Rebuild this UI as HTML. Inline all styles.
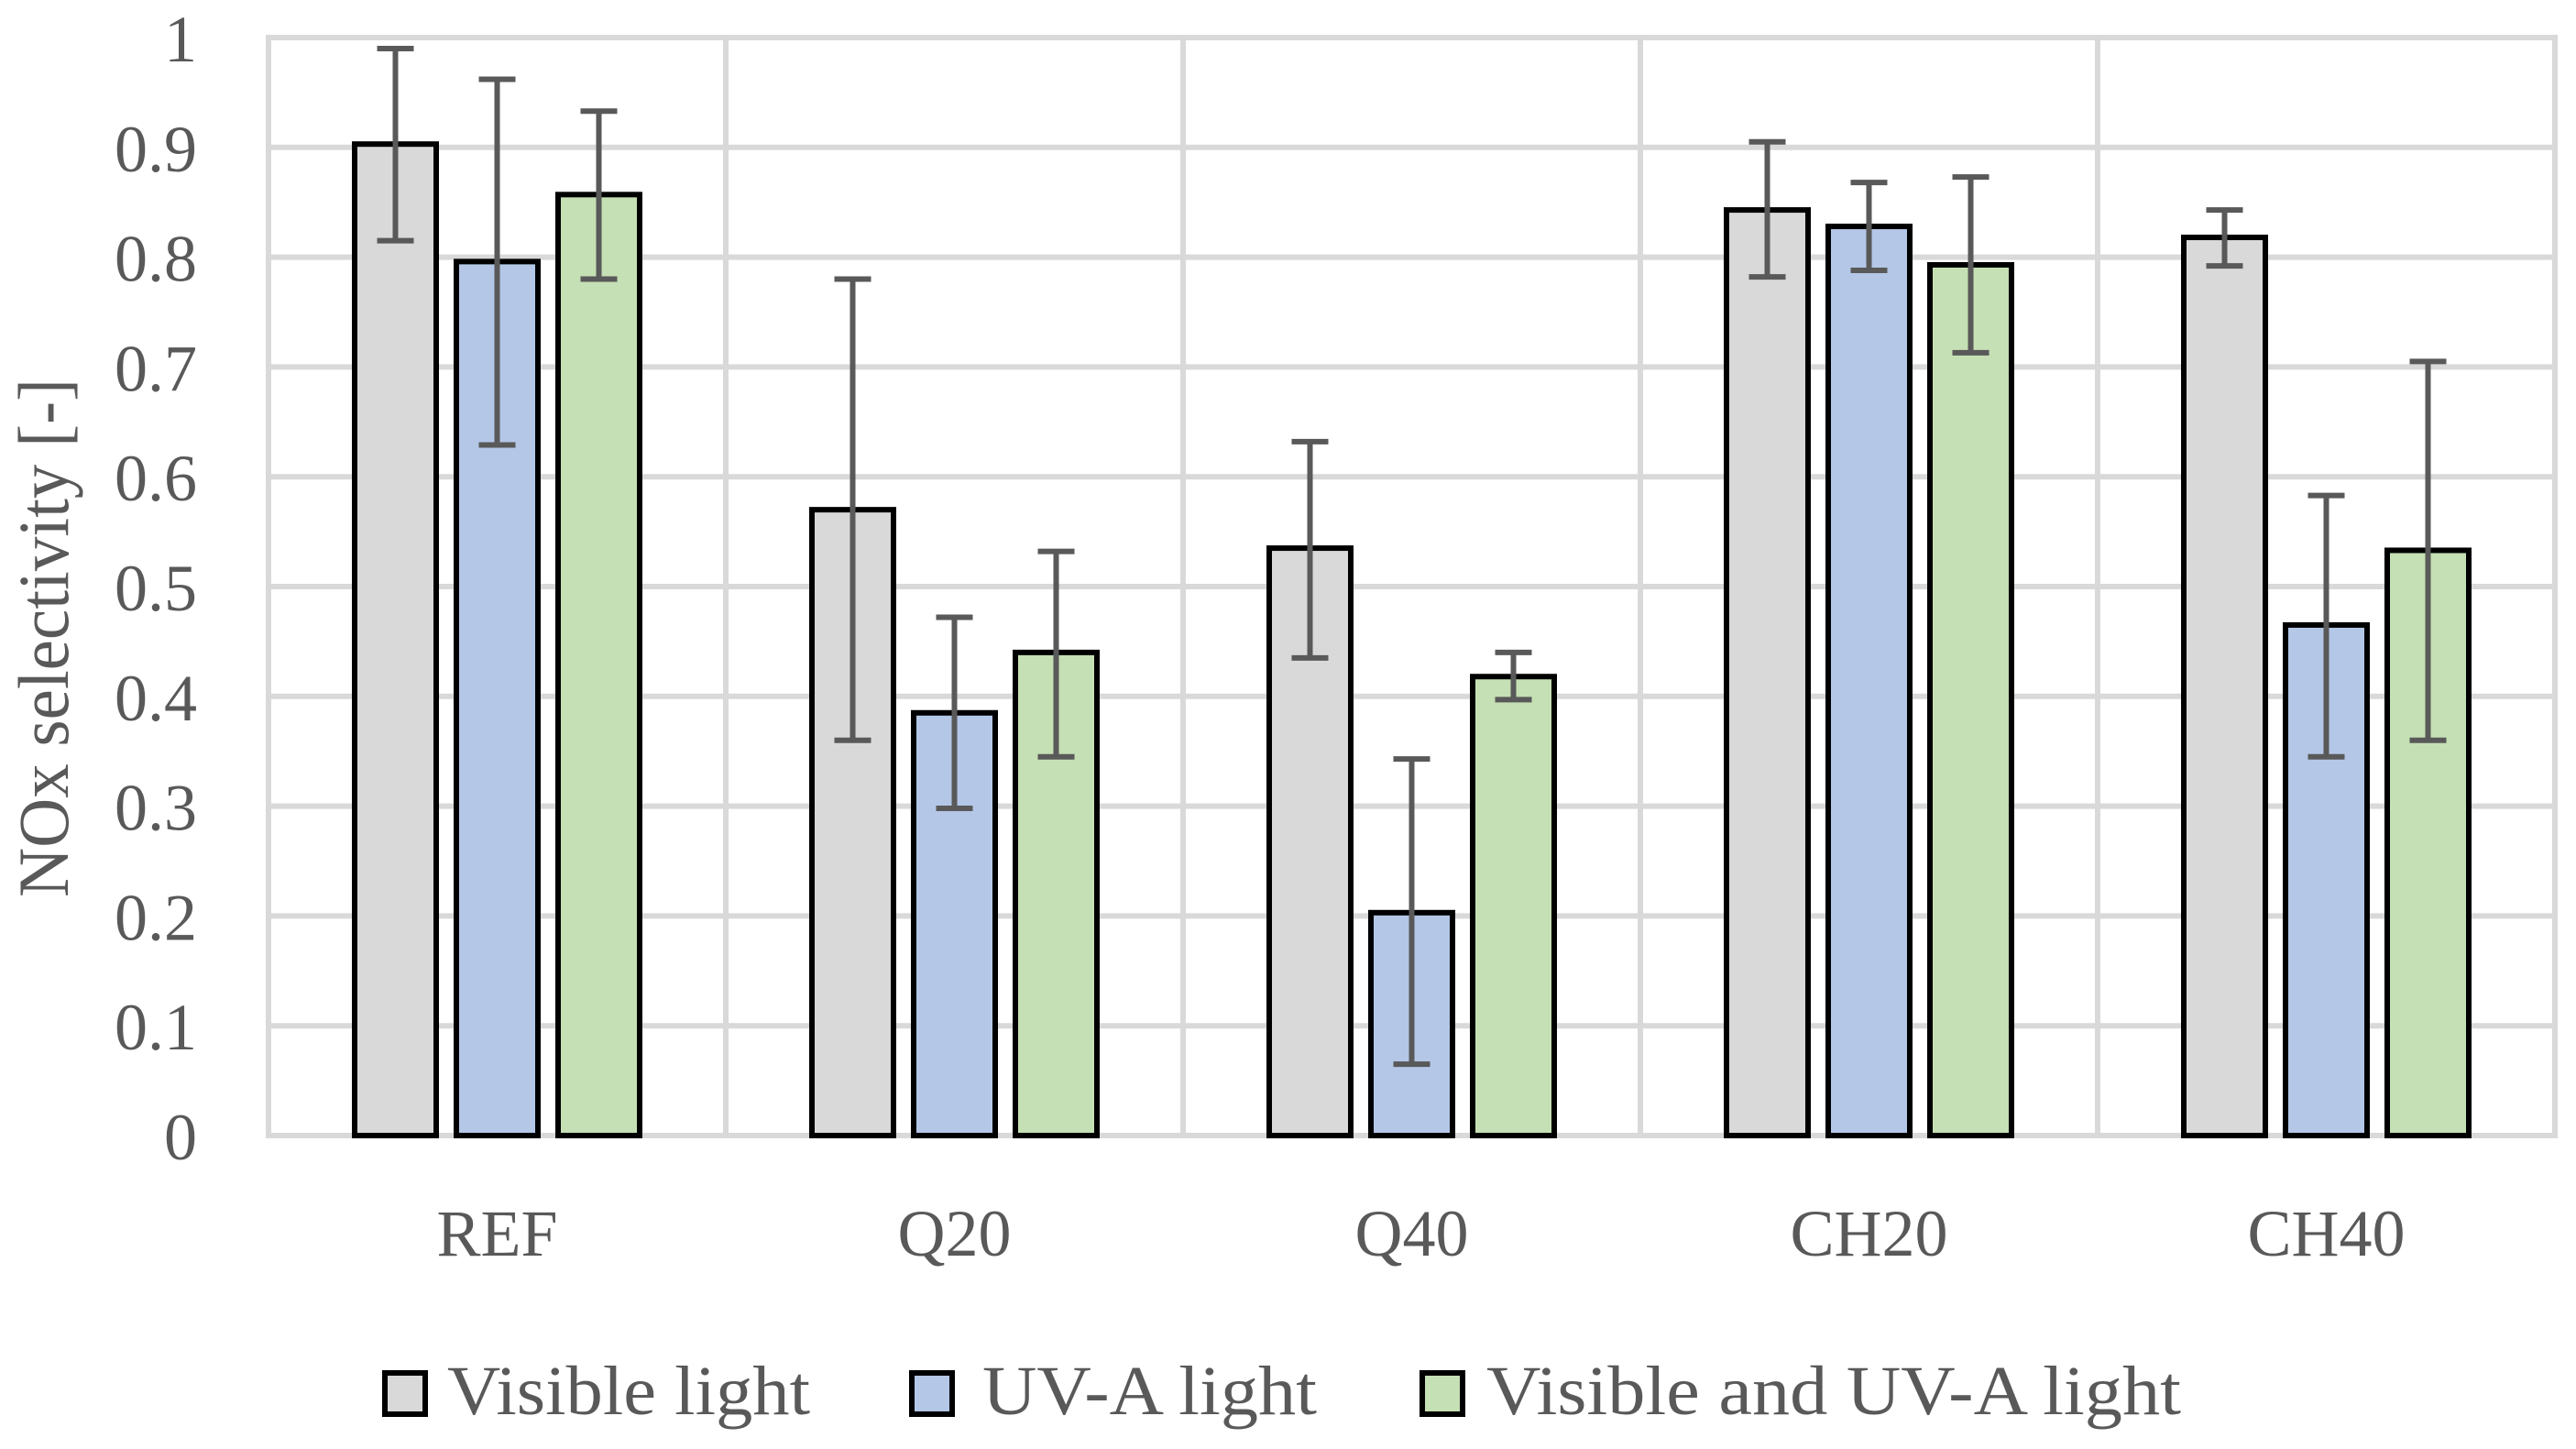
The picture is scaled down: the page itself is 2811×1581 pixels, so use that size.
<!DOCTYPE html>
<html><head><meta charset="utf-8"><style>
html,body{margin:0;padding:0;background:#fff;}
svg text{font-family:"Liberation Serif",serif;fill:#595959;}
</style></head><body>
<svg id="chart" width="2811" height="1576" xmlns="http://www.w3.org/2000/svg">
<g id="grid"></g>
<g id="bars"></g>
<g id="labels"></g>
<text x="0" y="0" font-size="78" text-anchor="middle" textLength="566" lengthAdjust="spacingAndGlyphs" transform="translate(74,696) rotate(-90)">NOx selectivity [-]</text>
<g>
<rect x="420" y="1498" width="44" height="45" fill="#d9d9d9" stroke="#000" stroke-width="6"/>
<text x="488" y="1543" font-size="76" textLength="396" lengthAdjust="spacingAndGlyphs">Visible light</text>
<rect x="995" y="1498" width="44" height="45" fill="#b4c7e7" stroke="#000" stroke-width="6"/>
<text x="1072" y="1543" font-size="76" textLength="365" lengthAdjust="spacingAndGlyphs">UV-A light</text>
<rect x="1552" y="1498" width="44" height="45" fill="#c5e0b4" stroke="#000" stroke-width="6"/>
<text x="1622" y="1543" font-size="76" textLength="758" lengthAdjust="spacingAndGlyphs">Visible and UV-A light</text>
</g>
</svg>
<script>
const categories = ["REF","Q20","Q40","CH20","CH40"];
const visible = [0.903,0.57,0.535,0.843,0.818];
const visibleHi = [0.99,0.78,0.632,0.905,0.843];
const visibleLo = [0.815,0.36,0.435,0.782,0.792];
const uva = [0.796,0.385,0.203,0.828,0.465];
const uvaHi = [0.962,0.472,0.343,0.868,0.583];
const uvaLo = [0.629,0.298,0.065,0.788,0.345];
const both = [0.857,0.44,0.418,0.793,0.533];
const bothHi = [0.933,0.532,0.44,0.873,0.705];
const bothLo = [0.78,0.345,0.397,0.713,0.36];
const yTicks = [0,0.1,0.2,0.3,0.4,0.5,0.6,0.7,0.8,0.9,1];
const yTickLabels = ["0","0.1","0.2","0.3","0.4","0.5","0.6","0.7","0.8","0.9","1"];

const NS="http://www.w3.org/2000/svg";
const X0=293, CW=499, Y0=1239, YTOP=41;
const yS=v=>Y0-(Y0-YTOP)*v;
const xS=i=>X0+CW*i;
function mk(tag,attrs,parent){const e=document.createElementNS(NS,tag);for(const k in attrs)e.setAttribute(k,attrs[k]);parent.appendChild(e);return e;}
const grid=document.getElementById('grid'), bars=document.getElementById('bars'), labels=document.getElementById('labels');
yTicks.forEach((t,i)=>{
  const l=mk('line',{x1:X0,x2:xS(categories.length),y1:yS(t),y2:yS(t),stroke:'#d9d9d9','stroke-width':6},grid);
  
  
  const tx=mk('text',{x:215,y:yS(t)+26,'font-size':72,'text-anchor':'end'},labels);
  tx.textContent=yTickLabels[i];
  
  
});
for(let i=0;i<=categories.length;i++){
  const l=mk('line',{x1:xS(i),x2:xS(i),y1:YTOP-3,y2:Y0+3,stroke:'#d9d9d9','stroke-width':6},grid);
  
  
}
const series=[[visible,visibleHi,visibleLo,'#d9d9d9','visible'],[uva,uvaHi,uvaLo,'#b4c7e7','uva'],[both,bothHi,bothLo,'#c5e0b4','both']];
categories.forEach((c,i)=>{
  series.forEach((s,j)=>{
    const bx=xS(i)+94+j*111, bw=89;
    const r=mk('rect',{x:bx,y:yS(s[0][i]),width:bw,height:Y0-yS(s[0][i]),fill:s[3],stroke:'#000','stroke-width':6},bars);
    
    
    const cx=bx+bw/2;
    const g=mk('path',{d:`M${cx},${yS(s[1][i])}V${yS(s[2][i])}M${cx-20},${yS(s[1][i])}H${cx+20}M${cx-20},${yS(s[2][i])}H${cx+20}`,stroke:'#595959','stroke-width':6,fill:'none'},bars);
    
    
  });
  const t=mk('text',{x:xS(i)+CW/2,y:1370,'font-size':72,'text-anchor':'middle'},labels);
  t.textContent=c;
  
  
});
</script>
</body></html>
